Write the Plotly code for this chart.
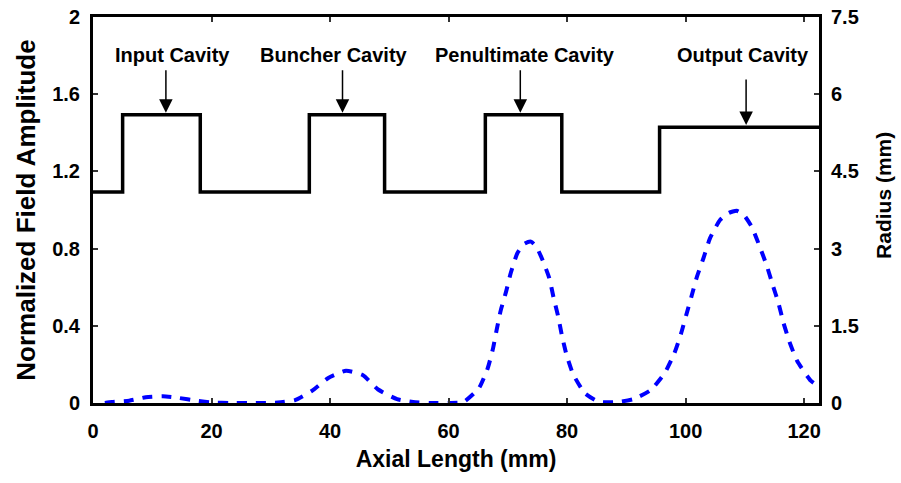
import plotly.graph_objects as go

# ---- data ----
field_x = [2, 3.2, 6.1, 8.9, 11.8, 14.5, 17.4, 20.3, 23.1, 27, 31.2, 34.1, 36.9, 39.7, 42.7,
           45.5, 48.1, 51.3, 54.0, 56.9, 60, 62.5, 65.1, 66.6, 67.5, 68.1, 68.8, 69.7, 70.5,
           71.6, 72.8, 73.9, 74.8, 75.8, 77.0, 77.7, 78.5, 79.1, 79.9, 81.0, 83.0, 85.3, 88.4,
           91.2, 94.1, 96.5, 98.1, 99.2, 100.1, 101.0, 101.9, 103.0, 104.1, 105.8, 107.3,
           108.6, 109.8, 111.2, 112.5, 113.7, 114.7, 115.7, 116.5, 117.5, 118.8, 121.1, 122.5]
field_y = [0.0, 0.005, 0.012, 0.03, 0.035, 0.026, 0.012, 0.002, 0.0, 0.0, 0.002, 0.015, 0.062,
           0.13, 0.167, 0.145, 0.07, 0.02, 0.005, 0.0, 0.0, 0.005, 0.076, 0.18, 0.283, 0.378,
           0.48, 0.577, 0.675, 0.776, 0.825, 0.836, 0.81, 0.745, 0.646, 0.548, 0.447, 0.352,
           0.249, 0.15, 0.05, 0.007, 0.005, 0.02, 0.067, 0.157, 0.258, 0.357, 0.456, 0.554,
           0.654, 0.75, 0.853, 0.948, 0.985, 0.996, 0.975, 0.91, 0.81, 0.71, 0.611, 0.513,
           0.416, 0.318, 0.219, 0.116, 0.085]

radius_x = [0, 5.0, 18.1, 36.5, 49.2, 66.2, 79.1, 95.6, 122.5]
radius_y = [4.1, 5.6, 4.1, 5.6, 4.1, 5.6, 4.1, 5.36, 5.36]

cavity_names = ["Input Cavity", "Buncher Cavity", "Penultimate Cavity", "Output Cavity"]
cavity_label_x = [13.4, 40.7, 72.9, 109.7]
cavity_arrow_x = [12.3, 42.1, 72.1, 110.2]
cavity_arrow_tip = [5.64, 5.64, 5.64, 5.40]
label_y = 6.76

x_ticks = [0, 20, 40, 60, 80, 100, 120]
y_ticks = [0, 0.4, 0.8, 1.2, 1.6, 2]
y_ticklabels = ["0", "0.4", "0.8", "1.2", "1.6", "2"]
y2_ticks = [0, 1.5, 3, 4.5, 6, 7.5]
y2_ticklabels = ["0", "1.5", "3", "4.5", "6", "7.5"]

FONT = "Liberation Sans, Arial, sans-serif"

fig = go.Figure()
fig.add_trace(go.Scatter(x=field_x, y=field_y, mode="lines", yaxis="y",
                         line=dict(color="#0000FF", width=4, dash="10px,9px", shape="spline", smoothing=0.5),
                         showlegend=False, hoverinfo="skip"))
fig.add_trace(go.Scatter(x=radius_x, y=radius_y, mode="lines", yaxis="y2",
                         line=dict(color="black", width=3.5, shape="hv"),
                         showlegend=False, hoverinfo="skip"))

annotations = []
for name, lx, axx, tip in zip(cavity_names, cavity_label_x, cavity_arrow_x, cavity_arrow_tip):
    annotations.append(dict(x=lx, y=label_y, xref="x", yref="y2", text=name, showarrow=False,
                            font=dict(family=FONT, size=20, color="black", weight="bold"),
                            xanchor="center", yanchor="middle"))
    annotations.append(dict(x=axx, y=tip, xref="x", yref="y2", text="", showarrow=True,
                            ax=0, ay=-44 if tip > 5.5 else -47, arrowhead=2, arrowsize=1.8,
                            arrowwidth=1.5, arrowcolor="black", standoff=0))

# right-hand axis title (placed slightly above centre, as in the reference)
annotations.append(dict(x=1.0895, y=0.539, xref="paper", yref="paper", text="Radius (mm)",
                        textangle=-90, showarrow=False, xanchor="center", yanchor="middle",
                        font=dict(family=FONT, size=21, color="black", weight="bold")))

fig.update_layout(
    width=901, height=483,
    margin=dict(l=93, r=82, t=17, b=80, autoexpand=False),
    paper_bgcolor="white", plot_bgcolor="white",
    font=dict(family=FONT, size=20, color="black", weight="bold"),
    xaxis=dict(range=[0, 122.5], tickvals=x_ticks, ticks="inside", ticklen=5, tickwidth=1.5,
               tickcolor="#333", showline=True, linecolor="black", linewidth=3, mirror="ticks",
               showgrid=False, zeroline=False, ticklabelstandoff=8, automargin=False,
               tickfont=dict(family=FONT, size=20, weight="bold"),
               title=dict(text="Axial Length (mm)", standoff=10,
                          font=dict(family=FONT, size=23, weight="bold"))),
    yaxis=dict(range=[0, 2], tickvals=y_ticks, ticktext=y_ticklabels, ticks="inside", ticklen=5,
               tickwidth=1.5, tickcolor="#333", showline=True, linecolor="black", linewidth=3,
               mirror=True, showgrid=False, zeroline=False, ticklabelstandoff=6, automargin=False,
               tickfont=dict(family=FONT, size=20, weight="bold"),
               title=dict(text="Normalized Field Amplitude", standoff=10,
                          font=dict(family=FONT, size=26, weight="bold"))),
    yaxis2=dict(range=[0, 7.5], tickvals=y2_ticks, ticktext=y2_ticklabels, overlaying="y",
                side="right", ticks="inside", ticklen=5, tickwidth=1.5, tickcolor="#333",
                showline=True, linecolor="black", linewidth=3, showgrid=False, zeroline=False,
                ticklabelstandoff=5, automargin=False,
                tickfont=dict(family=FONT, size=20, weight="bold")),
    annotations=annotations,
)

fig.write_html("out.html")
